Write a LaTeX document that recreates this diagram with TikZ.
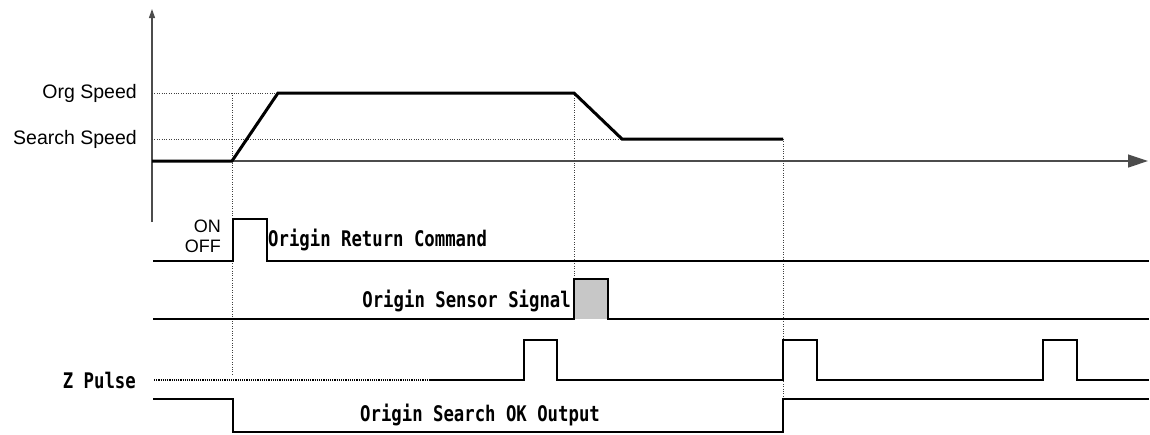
\documentclass[tikz,border=0pt]{standalone}
\usepackage{fontspec}
\setmainfont{Liberation Sans}
\newfontfamily\monob{DejaVu Sans Mono}[FakeStretch=0.805]
\usetikzlibrary{arrows.meta}
\tikzset{
  sig/.style={line width=2.7pt, line join=miter, line cap=rect},
  speed/.style={line width=3pt, line join=miter},
  guide/.style={black!75, line width=0.9pt, dash pattern=on 1pt off 1.4pt},
  axis/.style={black!70, line width=1.2pt},
  mono/.style={font=\monob\bfseries\fontsize{21.5}{23}\selectfont, inner sep=0pt},
  lbl/.style={font=\fontsize{19.5}{21}\selectfont, inner sep=0pt},
  onoff/.style={font=\fontsize{18}{20}\selectfont, inner sep=0pt}
}
\begin{document}
\begin{tikzpicture}[x=1pt,y=-1pt]
\useasboundingbox (0,0) rectangle (1150,434);
% axes
\coordinate (ybot) at (152,222);
\coordinate (ytop) at (152,9);
\coordinate (xl) at (152,161);
\coordinate (xr) at (1148,161);
\draw[axis, -{Stealth[length=9pt,width=6pt,inset=0pt]}] (ybot) -- (ytop);
\draw[axis, -{Triangle[length=20pt,width=13pt]}] (xl) -- (xr);
% guide lines
\draw[guide] (152,93) -- (278,93);
\draw[guide] (152,139) -- (622,139);
\draw[guide] (232,93) -- (232,376);
\draw[guide] (574,93) -- (574,278);
\draw[guide] (783,139) -- (783,398);
% speed profile
\draw[speed] (152,161) -- (232,161) -- (278,93) -- (574,93) -- (622,139) -- (783,139);
% labels
\node[lbl, anchor=base east] (org) at (137,98) {Org Speed};
\node[lbl, anchor=base east] (srch) at (137,144) {Search Speed};
\node[onoff, anchor=base east] (on) at (221,232) {ON};
\node[onoff, anchor=base east] (off) at (221,252) {OFF};
% origin return command
\draw[sig] (154,261) -- (233,261) -- (233,219) -- (267,219) -- (267,261) -- (1148,261);
\node[mono, anchor=base west] (orc) at (268,246) {Origin Return Command};
% origin sensor signal
\fill[black!22] (574,279) rectangle (608,319);
\draw[sig] (154,319) -- (574,319) -- (574,279) -- (608,279) -- (608,319) -- (1148,319);
\node[mono, anchor=base east] (oss) at (571,307) {Origin Sensor Signal};
% Z pulse
\node[mono, anchor=base east] (zp) at (136,388) {Z Pulse};
\draw[black, line width=1.6pt, dash pattern=on 1.2pt off 1pt] (154,380) -- (431,380);
\draw[sig] (431,380) -- (524,380) -- (524,340) -- (557,340) -- (557,380) -- (783,380)
  -- (783,340) -- (817,340) -- (817,380) -- (1043,380) -- (1043,340) -- (1077,340)
  -- (1077,380) -- (1148,380);
% origin search ok output
\draw[sig] (154,399) -- (233,399) -- (233,432) -- (783,432) -- (783,399) -- (1148,399);
\node[mono, anchor=base west] (ok) at (360,421) {Origin Search OK Output};
\end{tikzpicture}
\end{document}
